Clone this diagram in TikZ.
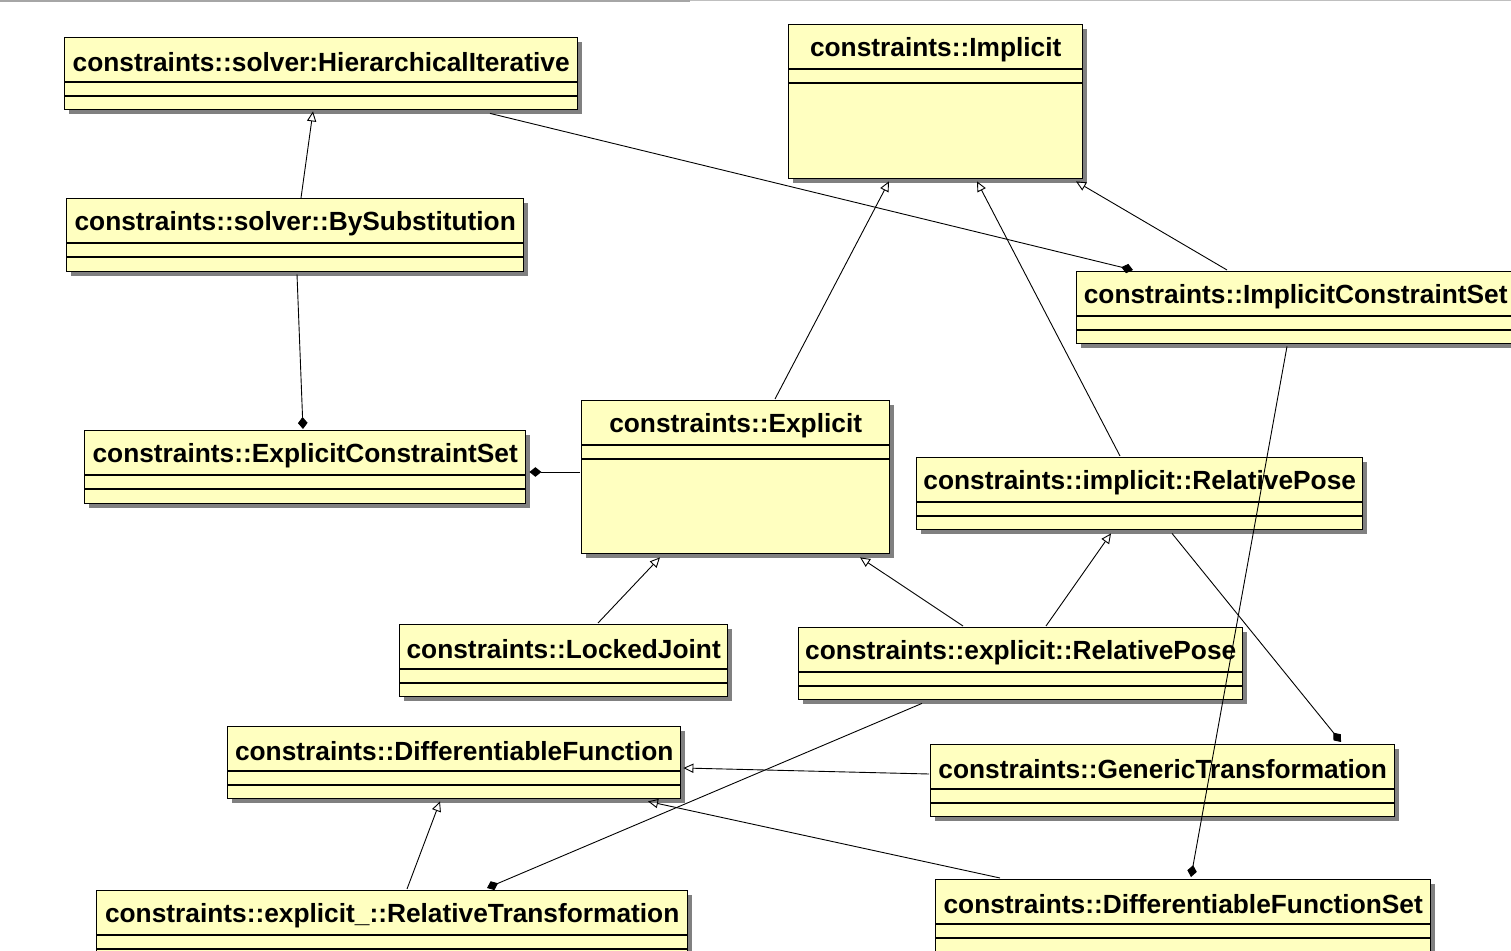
\documentclass[tikz,border=0pt]{standalone}
\usepackage{fontspec}
\setmainfont{Liberation Sans}
\usetikzlibrary{calc,shadows,arrows.meta}

\definecolor{classyellow}{RGB}{255,255,192}

\tikzset{
  classbox/.style={draw, fill=classyellow, line width=0.7pt, anchor=north west, inner sep=0pt,
    drop shadow={shadow xshift=2.3pt, shadow yshift=-2.3pt, fill=black!50, opacity=1}},
  classname/.style={font=\bfseries\fontsize{13.15}{15}\selectfont, inner sep=0pt},
  inherit/.style={line width=0.45pt, -{Triangle[open, length=5pt, width=4.6pt]}},
  compose/.style={line width=0.45pt, -{Diamond[length=6pt, width=4.8pt]}},
}

% class box: name, x, y, width, height, title
\newcommand{\umlclass}[6]{%
  \node[classbox, minimum width=#4*0.5pt, minimum height=#5*0.5pt] (#1) at (#2,#3) {};
  \node[classname] (#1-name) at ($(#1.north)+(0,25.5)$) {#6};
  \draw[line width=0.7pt] ($(#1.north west)+(0,45)$) -- ($(#1.north east)+(0,45)$);
  \draw[line width=0.7pt] ($(#1.north west)+(0,59)$) -- ($(#1.north east)+(0,59)$);
}

\begin{document}
\begin{tikzpicture}[x=0.5pt, y=-0.5pt]
  \useasboundingbox (0,0) rectangle (1511,951);
  \draw[black!35, line width=1pt] (0,1) -- (690,1);
  \draw[black!25, line width=0.5pt] (690,0.5) -- (1511,0.5);

  % classes
  \umlclass{hier}{64}{37}{513}{72}{constraints::solver:HierarchicalIterative}
  \umlclass{impl}{788}{24}{294}{154}{constraints::Implicit}
  \umlclass{bysub}{66}{198}{457}{73}{constraints::solver::BySubstitution}
  \umlclass{ics}{1076}{271}{438}{72}{constraints::ImplicitConstraintSet}
  \umlclass{ecs}{84}{430}{441}{73}{constraints::ExplicitConstraintSet}
  \umlclass{expl}{581}{400}{308}{153}{constraints::Explicit}
  \umlclass{irp}{916}{457}{446}{72}{constraints::implicit::RelativePose}
  \umlclass{locked}{399}{624}{328}{72}{constraints::LockedJoint}
  \umlclass{erp}{798}{627}{444}{72}{constraints::explicit::RelativePose}
  \umlclass{dfun}{227}{726}{453}{72}{constraints::DifferentiableFunction}
  \umlclass{gen}{930}{744}{464}{72}{constraints::GenericTransformation}
  \umlclass{rtrans}{96}{890}{591}{72}{constraints::explicit\_::RelativeTransformation}
  \umlclass{dfs}{935}{879}{495}{72}{constraints::DifferentiableFunctionSet}

  % generalisations
  \draw[inherit] ($(bysub.north west)+(235,0)$) -- ($(hier.south west)+(249,1)$);
  \draw[inherit] ($(expl.north west)+(194,-1)$) -- ($(impl.south west)+(101,2)$);
  \draw[inherit] ($(irp.north west)+(204,-1)$) -- ($(impl.south west)+(189,2)$);
  \draw[inherit] ($(ics.north west)+(151,-1)$) -- ($(impl.south west)+(288,2)$);
  \draw[inherit] ($(locked.north west)+(199,-1)$) -- ($(expl.south west)+(79,3)$);
  \draw[inherit] ($(erp.north west)+(165,-1)$) -- ($(expl.south west)+(279,3)$);
  \draw[inherit] ($(erp.north west)+(248,-1)$) -- ($(irp.south west)+(195,3)$);
  \draw[inherit] ($(gen.north west)+(-1,30)$) -- ($(dfun.north east)+(2,42)$);
  \draw[inherit] ($(rtrans.north west)+(311,-1)$) -- ($(dfun.south west)+(213,2)$);
  \draw[inherit] ($(dfs.north west)+(65,-1)$) -- ($(dfun.south west)+(421,2)$);

  % compositions
  \draw[compose] ($(bysub.south west)+(231,2)$) -- ($(ecs.north west)+(219,-1)$);
  \draw[compose] ($(hier.south west)+(426,3)$) -- ($(ics.north west)+(57,-1)$);
  \draw[compose] ($(ics.south west)+(211,2)$) -- ($(dfs.north west)+(256,-2)$);
  \draw[compose] ($(expl.north west)+(-1,72)$) -- ($(ecs.north east)+(3,42)$);
  \draw[compose] ($(irp.south west)+(256,3)$) -- ($(gen.north west)+(411,-2)$);
  \draw[compose] ($(erp.south west)+(124,3)$) -- ($(rtrans.north west)+(391,-2)$);
\end{tikzpicture}
\end{document}
